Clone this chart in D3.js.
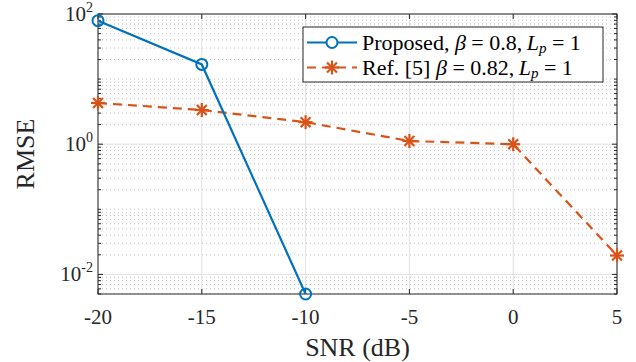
<!DOCTYPE html>
<html><head><meta charset="utf-8">
<script src="https://cdn.jsdelivr.net/npm/d3@7/dist/d3.min.js"></script>
<style>body{margin:0;background:#fff}svg text{font-family:"Liberation Serif","Times New Roman",serif}</style>
</head><body><svg id="c" width="636" height="362"></svg>
<script>
const snr = [-20, -15, -10, -5, 0, 5];
const proposedX = [-20, -15, -10];
const proposedY = [79, 16.8, 0.005];
const refX = [-20, -15, -10, -5, 0, 5];
const refY = [4.3, 3.35, 2.18, 1.12, 1.0, 0.0195];
const xTicks = [-20, -15, -10, -5, 0, 5];
const yTickExps = [-2, 0, 2];
const seriesNames = ["Proposed", "Ref. [5]"];

const FF = "Liberation Serif";
const svg = d3.select("#c");
const L = 98, R = 617, T = 14, B = 294;
const x = d3.scaleLinear().domain([-20, 5]).range([L, R]);
const y = d3.scaleLog().domain([0.005, 100]).range([B, T]);
const axCol = "#262626";

// minor grid (horizontal, dotted)
const minorVals = [];
for (let e = -3; e <= 2; e++) for (let m = 1; m <= 9; m++) {
  const v = m * Math.pow(10, e);
  if (v > 0.005 * 0.999 && v < 100 && !(m === 1 && e % 2 === 0)) minorVals.push(v);
}
svg.append("g").selectAll("line").data(minorVals).join("line")
  .attr("x1", L).attr("x2", R).attr("y1", d => y(d)).attr("y2", d => y(d))
  .attr("stroke", "#c4c4c4").attr("stroke-width", 1).attr("stroke-dasharray", "1,3");
// major grid
svg.append("g").selectAll("line").data(yTickExps.map(e => Math.pow(10, e))).join("line")
  .attr("x1", L).attr("x2", R).attr("y1", d => y(d)).attr("y2", d => y(d))
  .attr("stroke", "#e0e0e0").attr("stroke-width", 1);
svg.append("g").selectAll("line").data(xTicks).join("line")
  .attr("x1", d => x(d)).attr("x2", d => x(d)).attr("y1", T).attr("y2", B)
  .attr("stroke", "#e0e0e0").attr("stroke-width", 1);

// box
svg.append("rect").attr("x", L).attr("y", T).attr("width", R - L).attr("height", B - T)
  .attr("fill", "none").attr("stroke", axCol).attr("stroke-width", 1);

// ticks
const tg = svg.append("g").attr("stroke", axCol).attr("stroke-width", 1);
xTicks.forEach(t => {
  tg.append("line").attr("x1", x(t)).attr("x2", x(t)).attr("y1", B).attr("y2", B - 5);
  tg.append("line").attr("x1", x(t)).attr("x2", x(t)).attr("y1", T).attr("y2", T + 5);
});
minorVals.forEach(v => {
  tg.append("line").attr("x1", L).attr("x2", L + 3).attr("y1", y(v)).attr("y2", y(v));
  tg.append("line").attr("x1", R).attr("x2", R - 3).attr("y1", y(v)).attr("y2", y(v));
});
yTickExps.forEach(e => {
  const v = Math.pow(10, e);
  tg.append("line").attr("x1", L).attr("x2", L + 5).attr("y1", y(v)).attr("y2", y(v));
  tg.append("line").attr("x1", R).attr("x2", R - 5).attr("y1", y(v)).attr("y2", y(v));
});

// tick labels
svg.append("g").selectAll("text").data(xTicks).join("text")
  .attr("x", d => x(d)).attr("y", B + 30).attr("text-anchor", "middle")
  .attr("font-family", FF).attr("font-size", 21).attr("fill", axCol).text(d => d);
const yl = svg.append("g").selectAll("text").data(yTickExps).join("text")
  .attr("x", 93).attr("y", d => y(Math.pow(10, d)) + 7).attr("text-anchor", "end")
  .attr("font-family", FF).attr("font-size", 21).attr("fill", axCol);
yl.append("tspan").text("10");
yl.append("tspan").attr("dy", -9).attr("font-size", 14).text(d => d);

// axis labels
svg.append("text").attr("x", (L + R) / 2).attr("y", 356).attr("text-anchor", "middle")
  .attr("font-family", FF).attr("font-size", 26).attr("fill", axCol).text("SNR (dB)");
svg.append("text").attr("transform", `translate(34,${(T + B) / 2}) rotate(-90)`)
  .attr("text-anchor", "middle").attr("font-family", FF).attr("font-size", 26).attr("fill", axCol).text("RMSE");

const blue = "#0072BD", orange = "#D95319";
const line = d3.line().x(d => x(d[0])).y(d => y(d[1]));
const pData = proposedX.map((v, i) => [v, proposedY[i]]);
const rData = refX.map((v, i) => [v, refY[i]]);

svg.append("path").datum(rData).attr("d", line).attr("fill", "none")
  .attr("stroke", orange).attr("stroke-width", 2.2).attr("stroke-dasharray", "9,6");
svg.append("path").datum(pData).attr("d", line).attr("fill", "none")
  .attr("stroke", blue).attr("stroke-width", 2.2);

function star(g, cx, cy, r) {
  for (let k = 0; k < 4; k++) {
    const a = k * Math.PI / 4;
    g.append("line").attr("x1", cx - r * Math.cos(a)).attr("y1", cy - r * Math.sin(a))
      .attr("x2", cx + r * Math.cos(a)).attr("y2", cy + r * Math.sin(a))
      .attr("stroke", orange).attr("stroke-width", 2.2);
  }
}
const rg = svg.append("g");
rData.forEach(d => star(rg, x(d[0]), y(d[1]), 7));
svg.append("g").selectAll("circle").data(pData).join("circle")
  .attr("cx", d => x(d[0])).attr("cy", d => y(d[1])).attr("r", 5.5)
  .attr("fill", "none").attr("stroke", blue).attr("stroke-width", 2);

// legend
const lg = svg.append("g");
lg.append("rect").attr("x", 303).attr("y", 27).attr("width", 300).attr("height", 55)
  .attr("fill", "#fff").attr("stroke", axCol).attr("stroke-width", 1);
const r1 = 42.5, r2 = 67.5;
lg.append("line").attr("x1", 307).attr("x2", 357).attr("y1", r1).attr("y2", r1)
  .attr("stroke", blue).attr("stroke-width", 2.2);
lg.append("circle").attr("cx", 332).attr("cy", r1).attr("r", 5.5).attr("fill", "#fff")
  .attr("stroke", blue).attr("stroke-width", 2);
lg.append("line").attr("x1", 307).attr("x2", 357).attr("y1", r2).attr("y2", r2)
  .attr("stroke", orange).attr("stroke-width", 2.2).attr("stroke-dasharray", "9,6");
star(lg, 332, r2, 7);

function legText(yy, name, beta) {
  const t = lg.append("text").attr("x", 362).attr("y", yy + 7).attr("font-family", FF)
    .attr("font-size", 22).attr("fill", "#000");
  t.append("tspan").text(name + " ");
  t.append("tspan").attr("font-style", "italic").text("β");
  t.append("tspan").text("\u2005=\u2005" + beta + ",\u2009");
  t.append("tspan").attr("font-style", "italic").text("L");
  t.append("tspan").attr("font-style", "italic").attr("font-size", 15).attr("dy", 3).text("p");
  t.append("tspan").attr("dy", -3).text("\u2005=\u20051");
}
legText(r1, seriesNames[0] + ",", "0.8");
legText(r2, seriesNames[1], "0.82");
</script></body></html>
